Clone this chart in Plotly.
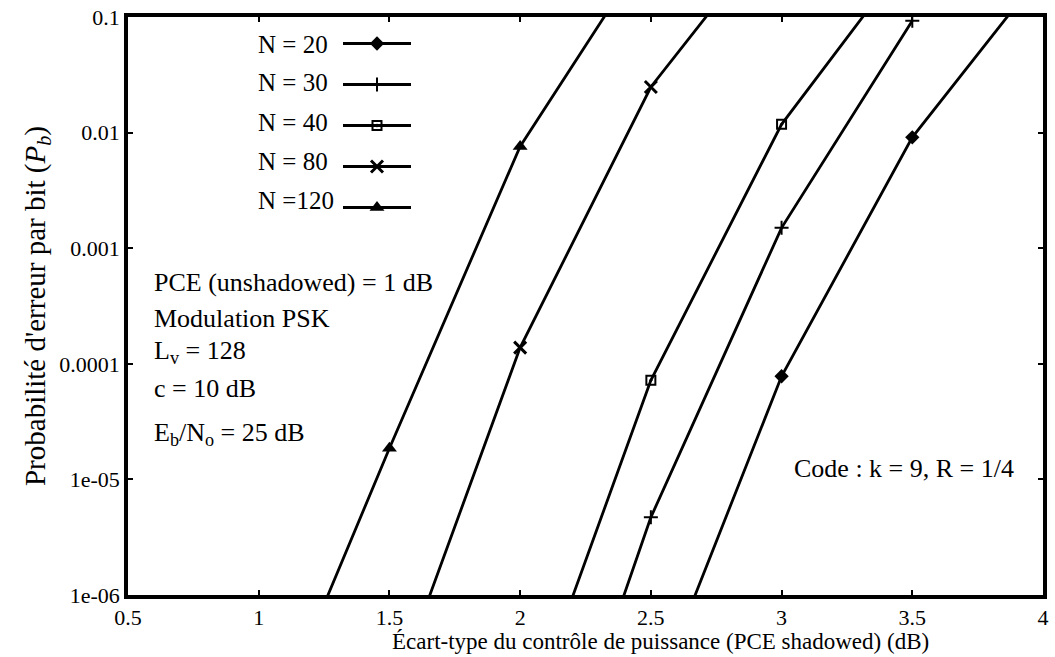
import plotly.graph_objects as go

# ---------------- data ----------------
n_labels = ["N = 20", "N = 30", "N = 40", "N = 80", "N =120"]

x_n20 = [2.5, 3.0, 3.5, 4.0]
y_n20 = [1.07e-7, 7.8e-5, 9.1e-3, 0.248]

x_n30 = [2.0, 2.5, 3.0, 3.5]
y_n30 = [2.5e-9, 4.7e-6, 1.5e-3, 0.093]

x_n40 = [2.0, 2.5, 3.0, 3.5]
y_n40 = [5.4e-8, 7.2e-5, 1.18e-2, 0.37]

x_n80 = [1.5, 2.0, 2.5, 3.0]
y_n80 = [1.1e-7, 1.38e-4, 2.48e-2, 0.68]

x_n120 = [1.0, 1.5, 2.0, 2.5]
y_n120 = [3.7e-8, 1.86e-5, 7.6e-3, 0.42]

x_ticks = [0.5, 1.0, 1.5, 2.0, 2.5, 3.0, 3.5, 4.0]
x_ticktext = ["0.5", "1", "1.5", "2", "2.5", "3", "3.5", "4"]
y_ticks = [1e-6, 1e-5, 1e-4, 1e-3, 1e-2, 1e-1]
y_ticktext = ["1e-06", "1e-05", "0.0001", "0.001", "0.01", "0.1"]

info_lines = [
    "PCE (unshadowed) = 1 dB",
    "Modulation PSK",
    "L<sub>v</sub> = 128",
    "c = 10 dB",
    "E<sub>b</sub>/N<sub>o</sub> = 25 dB",
]
code_text = "Code : k = 9, R = 1/4"
x_title = "Écart-type du contrôle de puissance (PCE shadowed) (dB)"
y_title = "Probabilité d'erreur par bit (<i>P<sub>b</sub></i>)"

# ---------------- layout geometry ----------------
W, H = 1055, 657
ML, MR, MT, MB = 128, 12, 17, 62
PW, PH = W - ML - MR, H - MT - MB
FONT = "Liberation Serif, Times New Roman, serif"


def px(xp):
    return (xp - ML) / PW


def py(yp):
    return 1 - (yp - MT) / PH


series = [
    (x_n20, y_n20, dict(symbol="diamond", size=11, color="black")),
    (x_n30, y_n30, dict(symbol="cross-thin", size=10, color="black",
                        line=dict(width=2, color="black"))),
    (x_n40, y_n40, dict(symbol="square-open-dot", size=9, color="black",
                        line=dict(width=2, color="black"))),
    (x_n80, y_n80, dict(symbol="x-thin", size=12, color="black",
                        line=dict(width=3, color="black"))),
    (x_n120, y_n120, dict(symbol="triangle-up", size=13, color="black")),
]

fig = go.Figure()
for i, (xs, ys, mk) in enumerate(series):
    fig.add_trace(go.Scatter(
        x=xs, y=ys, mode="lines+markers", name="",
        legendgroup=f"g{i}", showlegend=True,
        line=dict(color="black", width=2.8),
        marker=mk,
    ))

annotations = []
# legend labels (text to the left of the legend samples)
row0, drow = 44, 39
for i, t in enumerate(n_labels):
    annotations.append(dict(
        text=t, x=px(256), y=py(row0 + drow * i), xref="paper", yref="paper",
        xanchor="left", yanchor="middle", showarrow=False,
        font=dict(family=FONT, size=25, color="black")))

info_y = [282, 318, 352, 388, 434]
for t, yy in zip(info_lines, info_y):
    annotations.append(dict(
        text=t, x=px(152), y=py(yy), xref="paper", yref="paper",
        xanchor="left", yanchor="middle", showarrow=False,
        font=dict(family=FONT, size=26, color="black")))

annotations.append(dict(
    text=code_text, x=px(792), y=py(468), xref="paper", yref="paper",
    xanchor="left", yanchor="middle", showarrow=False,
    font=dict(family=FONT, size=26, color="black")))

annotations.append(dict(
    text=x_title, x=px(660), y=py(641), xref="paper", yref="paper",
    xanchor="center", yanchor="middle", showarrow=False,
    font=dict(family=FONT, size=23, color="black")))

fig.update_layout(
    width=W, height=H,
    margin=dict(l=ML, r=MR, t=MT, b=MB, autoexpand=False),
    paper_bgcolor="white", plot_bgcolor="white",
    font=dict(family=FONT, size=22, color="black"),
    showlegend=True,
    legend=dict(
        x=px(338), y=py(row0 - 20), xanchor="left", yanchor="top",
        bgcolor="rgba(0,0,0,0)", itemwidth=68, tracegroupgap=12,
        traceorder="grouped", font=dict(size=20, family=FONT),
        itemclick=False, itemdoubleclick=False,
    ),
    annotations=annotations,
)

fig.update_xaxes(
    range=[0.5, 4.0], tickvals=x_ticks, ticktext=x_ticktext,
    showgrid=False, zeroline=False,
    showline=True, linecolor="black", linewidth=3.5, mirror="ticks",
    ticks="inside", ticklen=5, tickwidth=2, tickcolor="black",
    tickfont=dict(family=FONT, size=22, color="black"),
)
fig.update_yaxes(
    type="log", range=[-6, -1], tickvals=y_ticks, ticktext=y_ticktext,
    showgrid=False, zeroline=False,
    showline=True, linecolor="black", linewidth=3.5, mirror="ticks",
    ticks="inside", ticklen=5, tickwidth=2, tickcolor="black",
    tickfont=dict(family=FONT, size=22, color="black"),
    title=dict(text=y_title, font=dict(family=FONT, size=29, color="black"),
               standoff=6),
)

fig.write_html("out.html")
